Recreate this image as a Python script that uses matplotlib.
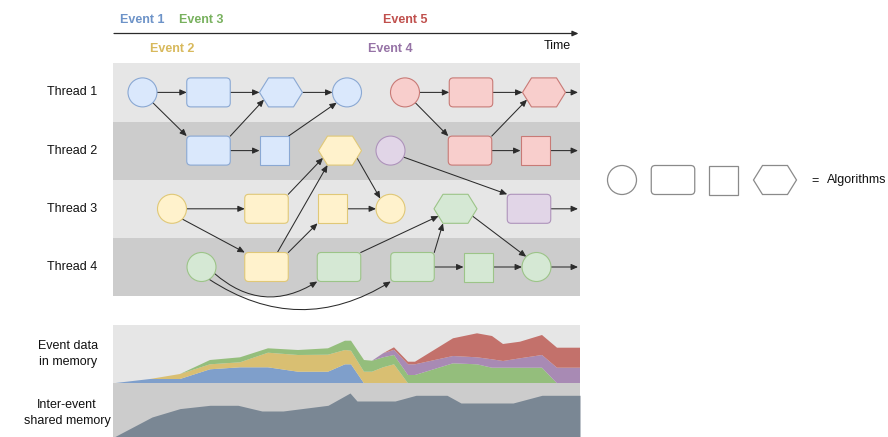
import matplotlib
matplotlib.use('Agg')
import matplotlib.pyplot as plt
from matplotlib.patches import Circle, Rectangle, FancyBboxPatch, Polygon, FancyArrowPatch
import numpy as np

plt.rcParams['font.family'] = ['Liberation Sans', 'DejaVu Sans']

# ---------------- data ----------------
threads = ['Thread 1', 'Thread 2', 'Thread 3', 'Thread 4']
events = ['Event 1', 'Event 2', 'Event 3', 'Event 4', 'Event 5']
event_start = [142.5, 172, 201.5, 390.5, 405]
event_row = [0, 1, 0, 1, 0]          # 0 = above time axis, 1 = below
event_fill = ['#dae8fc', '#fff2cc', '#d5e8d4', '#e1d5e7', '#f8cecc']
event_edge = ['#8aa8d3', '#e0c877', '#9cc488', '#ae93bb', '#c87a76']
event_text = ['#6d93c8', '#d8b95c', '#78b15e', '#9673a6', '#c0504d']
event_area = ['#7f9fcb', '#d9bf72', '#94be7c', '#a88ab4', '#c3716b']

node_names = ['A1', 'A2', 'A3', 'A4', 'R1', 'R2', 'R3',
              'B1', 'B2', 'Y4', 'P1', 'R4', 'R5',
              'Y1', 'Y2', 'Y3', 'Y5', 'G4', 'P2',
              'G1', 'Y6', 'G2', 'G3', 'G5', 'G6']
node_thread = [0, 0, 0, 0, 0, 0, 0,
               1, 1, 1, 1, 1, 1,
               2, 2, 2, 2, 2, 2,
               3, 3, 3, 3, 3, 3]
node_time = [142.5, 208.5, 281, 347, 405, 471, 544,
             208.5, 274, 340, 390.5, 470, 535,
             172, 266.5, 332, 390.5, 455.5, 529,
             201.5, 266.5, 339, 412.5, 478, 536.5]
node_shape = ['circle', 'rect', 'hex', 'circle', 'circle', 'rect', 'hex',
              'rect', 'square', 'hex', 'circle', 'rect', 'square',
              'circle', 'rect', 'square', 'circle', 'hex', 'rect',
              'circle', 'rect', 'rect', 'rect', 'square', 'circle']
node_event = [0, 0, 0, 0, 4, 4, 4,
              0, 0, 1, 3, 4, 4,
              1, 1, 1, 1, 2, 3,
              2, 1, 2, 2, 2, 2]

# (source, target, source port, target port, curvature)
edges = [
    ('A1', 'A2', 'r', 'l', 0), ('A1', 'B1', 'br', 'tl', 0),
    ('A2', 'A3', 'r', 'l', 0), ('B1', 'A3', 'tr', 'bl', 0),
    ('B1', 'B2', 'r', 'l', 0), ('B2', 'A4', 'tr', 'bl', 0),
    ('A3', 'A4', 'r', 'l', 0),
    ('R1', 'R2', 'r', 'l', 0), ('R1', 'R4', 'br', 'tl', 0),
    ('R2', 'R3', 'r', 'l', 0), ('R4', 'R3', 'tr', 'bl', 0),
    ('R4', 'R5', 'r', 'l', 0),
    ('Y1', 'Y2', 'r', 'l', 0), ('Y1', 'Y6', 'br', 'tl', 0),
    ('Y2', 'Y4', 'tr', 'bl', 0), ('Y6', 'Y4', 'tc', 'bv', 0),
    ('Y6', 'Y3', 'tr', 'bl', 0), ('Y3', 'Y5', 'r', 'l', 0),
    ('Y4', 'Y5', 'br', 'tl', 0),
    ('P1', 'P2', 'rb', 'tl', 0),
    ('G1', 'G2', 'rb', 'bl', 0.37), ('G1', 'G3', 'bb', 'bl', 0.32),
    ('G2', 'G4', 'tr', 'bl', 0), ('G3', 'G4', 'tr', 'bv', 0),
    ('G3', 'G5', 'r', 'l', 0), ('G4', 'G6', 'br', 'tl', 0),
    ('G5', 'G6', 'r', 'l', 0),
]
out_nodes = ['R3', 'R5', 'P2', 'G6']

legend_shapes = ['circle', 'rect', 'square', 'hex']
legend_label = 'Algorithms'

# memory usage (stacked per event), sampled on a common time grid
mem_time = [113, 150, 180, 210, 240, 268, 298, 328, 345, 351, 364, 372,
            383, 394, 408, 415, 453, 477, 492, 503, 520, 542, 557, 580]
mem_event1 = [0, 4.3, 4.3, 14, 16, 16, 11.6, 11.6, 19, 19, 0, 0,
              0, 0, 0, 0, 0, 0, 0, 0, 0, 0, 0, 0]
mem_event2 = [0, 0, 5, 5, 5, 14.6, 16.7, 17, 14.3, 13.6, 11.6, 11.6,
              16, 19, 0, 0, 0, 0, 0, 0, 0, 0, 0, 0]
mem_event3 = [0, 0, 0, 4.3, 5, 4.4, 5, 6.4, 9.3, 10, 11.7, 11,
              10, 9.3, 8.3, 8.3, 20, 19, 15.6, 15.6, 15.6, 15.6, 0, 0]
mem_event4 = [0, 0, 0, 0, 0, 0, 0, 0, 0, 0, 0, 0,
              4, 5.2, 10.7, 10.7, 7.3, 7, 8.4, 6.7, 9.4, 12.7, 15.6, 15.6]
mem_event5 = [0, 0, 0, 0, 0, 0, 0, 0, 0, 0, 0, 0,
              0, 2.5, 2.6, 2.6, 17.7, 24, 23.3, 17, 16.6, 20, 20, 20]

shared_time = [114, 152, 180, 210, 238, 262, 283, 328, 350, 357, 395,
               416, 447, 461, 513, 542, 580]
shared_mem = [0, 20, 28.4, 31.7, 31.7, 26, 26, 31.7, 44, 36, 36,
              41.7, 41.7, 34, 34, 41.7, 41.7]

# ---------------- layout ----------------
W, H = 888, 437
t0, t1 = 113.3, 579.5          # time range of the panels
lane_top, lane_h = 63.3, 58.2
node_r, rect_w, rect_h, sq = 14.5, 43.5, 29, 29
hex_w, hex_inset = 43, 9

fig = plt.figure(figsize=(W / 100, H / 100), dpi=100)
ax = fig.add_axes([0, 0, 1, 1])
ax.set_xlim(0, W)
ax.set_ylim(H, 0)
ax.axis('off')

lane_colors = ['#e6e6e6', '#cccccc']
for i, name in enumerate(threads):
    ax.add_patch(Rectangle((t0, lane_top + i * lane_h), t1 - t0, lane_h,
                           facecolor=lane_colors[i % 2], edgecolor='none', zorder=0))
    ax.text(72, lane_top + (i + 0.5) * lane_h, name, ha='center', va='center',
            fontsize=9, color='#111111')


def lane_y(i):
    return lane_top + (i + 0.5) * lane_h


hex_port_map = {'bl': (-0.79, 0.5), 'br': (0.79, 0.5), 'tl': (-0.79, -0.5), 'tr': (0.79, -0.5)}
port_map = {'r': (1, 0), 'l': (-1, 0), 'tr': (1, -1), 'tl': (-1, -1), 'br': (1, 1),
            'bl': (-1, 1), 'tc': (0.5, -1), 'bv': (-(hex_w / 2 - hex_inset) / (hex_w / 2), 1),
            'rb': (0.9, 0.45), 'bb': (0.53, 0.85)}


def shape_half(shape):
    if shape == 'circle':
        return node_r, node_r
    if shape == 'rect':
        return rect_w / 2, rect_h / 2
    if shape == 'square':
        return sq / 2, sq / 2
    return hex_w / 2, rect_h / 2


def draw_shape(shape, cx, cy, fc, ec, lw=0.8):
    hw, hh = shape_half(shape)
    if shape == 'circle':
        p = Circle((cx, cy), node_r, facecolor=fc, edgecolor=ec, lw=lw, zorder=3)
    elif shape == 'rect':
        p = FancyBboxPatch((cx - hw, cy - hh), 2 * hw, 2 * hh,
                           boxstyle='round,pad=0,rounding_size=4',
                           facecolor=fc, edgecolor=ec, lw=lw, zorder=3)
    elif shape == 'square':
        p = Rectangle((cx - hw, cy - hh), 2 * hw, 2 * hh, facecolor=fc,
                      edgecolor=ec, lw=lw, zorder=3)
    else:
        pts = [(cx - hw, cy), (cx - hw + hex_inset, cy - hh), (cx + hw - hex_inset, cy - hh),
               (cx + hw, cy), (cx + hw - hex_inset, cy + hh), (cx - hw + hex_inset, cy + hh)]
        p = Polygon(pts, closed=True, facecolor=fc, edgecolor=ec, lw=lw, zorder=3)
    ax.add_patch(p)


pos = {}
for n, th, t, sh, ev in zip(node_names, node_thread, node_time, node_shape, node_event):
    pos[n] = (t, lane_y(th), sh)
    draw_shape(sh, t, lane_y(th), event_fill[ev], event_edge[ev])


def port(name, p):
    cx, cy, sh = pos[name]
    hw, hh = shape_half(sh)
    if sh == 'circle':
        fx, fy = port_map[p]
        n = np.hypot(fx, fy)
        return cx + node_r * fx / n, cy + node_r * fy / n
    if sh == 'hex' and p in hex_port_map:
        fx, fy = hex_port_map[p]
    else:
        fx, fy = port_map[p]
    return cx + fx * hw, cy + fy * hh


arrow_kw = dict(arrowstyle='-|>,head_length=0.45,head_width=0.2', mutation_scale=9,
                color='#2b2b2b', lw=0.75, shrinkA=0, shrinkB=0, zorder=2)
for s, d, ps, pd, rad in edges:
    a = FancyArrowPatch(port(s, ps), port(d, pd),
                        connectionstyle=f'arc3,rad={rad}', **arrow_kw)
    ax.add_patch(a)
for n in out_nodes:
    a = FancyArrowPatch(port(n, 'r'), (t1 - 1.5, pos[n][1]), **arrow_kw)
    ax.add_patch(a)

# time axis and event labels
ax.add_patch(FancyArrowPatch((114, 33.5), (t1 - 1, 33.5),
                             arrowstyle='-|>,head_length=0.45,head_width=0.2',
                             mutation_scale=8, color='#2b2b2b', lw=0.9, shrinkA=0, shrinkB=0))
ax.text(557, 46, 'Time', ha='center', va='center', fontsize=9, color='#111111')
for name, t, row, col in zip(events, event_start, event_row, event_text):
    ax.text(t, 20 if row == 0 else 49, name, ha='center', va='center', fontsize=9,
            fontweight='bold', color=col)

# legend
leg_x = [622, 673, 723.7, 775]
for sh, x in zip(legend_shapes, leg_x):
    draw_shape(sh, x, 180, 'white', '#8a8a8a', lw=0.9)
ax.text(815, 181, '=', ha='center', va='center', fontsize=9, color='#111111')
ax.text(827, 180.5, legend_label, ha='left', va='center', fontsize=9, color='#111111')

# memory panels
top_y0, top_y1, bot_y1 = 324.7, 383.3, 437.0
ax1 = fig.add_axes([t0 / W, (H - top_y1) / H, (t1 - t0) / W, (top_y1 - top_y0) / H])
ax1.set_facecolor('#e6e6e6')
ax1.stackplot(mem_time, mem_event1, mem_event2, mem_event3, mem_event4, mem_event5,
              colors=event_area, lw=0)
ax1.set_xlim(t0, t1)
ax1.set_ylim(0, top_y1 - top_y0)
ax1.set_xticks([]); ax1.set_yticks([])
for s in ax1.spines.values():
    s.set_visible(False)

ax2 = fig.add_axes([t0 / W, (H - bot_y1) / H, (t1 - t0) / W, (bot_y1 - top_y1) / H])
ax2.set_facecolor('#cccccc')
ax2.fill_between(shared_time, 0, shared_mem, color='#7a8794', lw=0)
ax2.set_xlim(t0, t1)
ax2.set_ylim(0, bot_y1 - top_y1)
ax2.set_xticks([]); ax2.set_yticks([])
for s in ax2.spines.values():
    s.set_visible(False)

ax.text(68, 354, 'Event data\nin memory', ha='center', va='center', fontsize=9,
        color='#111111', linespacing=1.55)
ax.text(67, 413, 'Inter-event\nshared memory', ha='center', va='center', fontsize=9,
        color='#111111', linespacing=1.55)

fig.savefig('out.png', dpi=100)
